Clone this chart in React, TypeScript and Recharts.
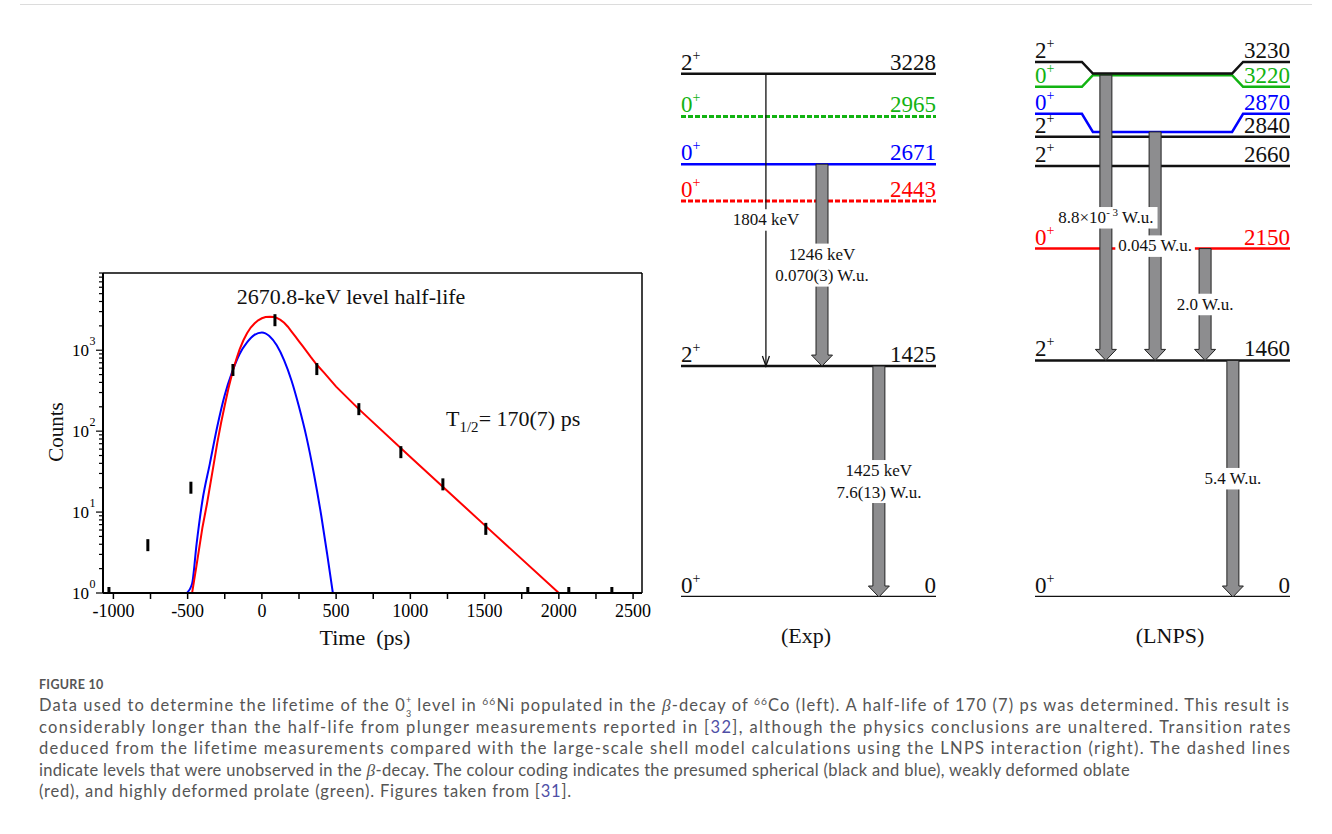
import React, { useLayoutEffect, useRef, useState } from "react";
import {
  ComposedChart,
  Line,
  Scatter,
  XAxis,
  YAxis,
  ReferenceLine,
  ReferenceArea,
  ReferenceDot,
} from "recharts";

const SERIF = '"Liberation Serif", "Times New Roman", serif';

// ---------- left panel: time spectrum of the 2670.8-keV level ----------
const timeTicks = [-1000, -750, -500, -250, 0, 250, 500, 750, 1000, 1250, 1500, 1750, 2000, 2250, 2500];
const countTicks = [
  1, 2, 3, 4, 5, 6, 7, 8, 9,
  10, 20, 30, 40, 50, 60, 70, 80, 90,
  100, 200, 300, 400, 500, 600, 700, 800, 900,
  1000, 2000, 3000, 4000, 5000, 6000, 7000, 8000, 9000,
];

// measured points (ps, counts)
const measTime = [-1030, -768, -478, -195, 88, 370, 653, 936, 1219, 1508, 1791, 2067, 2357];
const measCounts = [1, 3.9, 20, 570, 2350, 585, 187, 55, 22, 6.2, 1, 1, 1];

// fit with the 170 ps decay (red)
const fitTime = [
  -1060, -470, -440, -400, -370, -330, -300, -275, -250, -225, -195, -170, -150, -125, -100, -75, -50, -25,
  0, 25, 55, 80, 100, 125, 150, 175, 200, 225, 250, 275, 300, 330, 370, 420, 500, 653, 1000, 1500, 2000, 2520,
];
const fitCounts = [
  1, 1, 2.2, 6.5, 12.6, 34, 72, 126, 209, 339, 562, 794, 1023, 1318, 1622, 1905, 2138, 2344,
  2483, 2570, 2600, 2570, 2512, 2371, 2188, 1950, 1698, 1479, 1288, 1122, 977, 822, 661, 525, 355, 187, 48, 6.9, 1, 1,
];

// prompt response (blue)
const promptTime = [-505, -470, -440, -400, -350, -300, -250, -200, -150, -100, -50, 0, 50, 100, 150, 200, 250, 300, 350, 400, 440, 478];
const promptCounts = [1, 1.3, 4, 14, 40, 115, 280, 540, 900, 1250, 1550, 1660, 1500, 1150, 750, 420, 200, 85, 30, 9, 3, 1];

// ---------- level schemes (keV) ----------
const expEnergies = [3228, 2965, 2671, 2443, 1425, 0];
const expSpins = ["2", "0", "0", "0", "2", "0"];
const expShapes = ["sph", "prolate", "sph0", "oblate", "sph", "sph"];
const expSeen = [true, false, true, false, true, true];
const expFrom = [3228, 2671, 1425];
const expTo = [1425, 1425, 0];
const expGamma = [1804, 1246, 1425];
const expWu = ["", "0.070(3)", "7.6(13)"];

const lnpsEnergies = [3230, 3220, 2870, 2840, 2660, 2150, 1460, 0];
const lnpsSpins = ["2", "0", "0", "2", "2", "0", "2", "0"];
const lnpsShapes = ["sph", "prolate", "sph0", "sph", "sph", "oblate", "sph", "sph"];
const lnpsFrom = [3220, 2870, 2150, 1460];
const lnpsTo = [1460, 1460, 1460, 0];
const lnpsWu = ["8.8×10^-3", "0.045", "2.0", "5.4"];

// layout of the schemes (x in 0..100 across the level lines)
const expCols = [33.3, 55.3, 77.6];
const expThin = [true, false, false];
const lnpsCols = [27.8, 47.1, 66.7, 77.6];
const lnpsSplay = [72, -72, 112, 0, 0, 0, 0, 0]; // keV shift of the label ends
const shapeColour: Record<string, string> = {
  sph: "#111",
  sph0: "#0000ff",
  oblate: "#ff0000",
  prolate: "#12b312",
};

const charW: Record<string, number> = {
  ".": 0.25, " ": 0.25, "(": 0.333, ")": 0.333, k: 0.5, e: 0.444, V: 0.722,
  W: 0.944, u: 0.5, "×": 0.564, "-": 0.333,
};
const textW = (s: string, fs: number) =>
  [...s].reduce((a, c) => a + (charW[c] ?? 0.5), 0) * fs;

function TimeTick(props: any) {
  const { x, y, payload } = props;
  const v = payload.value;
  return (
    <g>
      <line x1={x} x2={x} y1={y} y2={y + 6} stroke="#000" strokeWidth={1.5} />
      {v % 500 === 0 && (
        <text x={x} y={y + 24} textAnchor="middle" fontFamily={SERIF} fontSize={18} fill="#000">
          {v}
        </text>
      )}
    </g>
  );
}

function CountTick(props: any) {
  const { x, y, payload } = props;
  const e = Math.log10(payload.value);
  const major = Math.abs(e - Math.round(e)) < 1e-6;
  return (
    <g>
      <line x1={x - (major ? 7 : 4)} x2={x} y1={y} y2={y} stroke="#000" strokeWidth={1.2} />
      {major && (
        <>
          <text x={x - 14} y={y + 6} textAnchor="end" fontFamily={SERIF} fontSize={17} fill="#000">10</text>
          <text x={x - 13.5} y={y - 5} fontFamily={SERIF} fontSize={12} fill="#000">{Math.round(e)}</text>
        </>
      )}
    </g>
  );
}

const ErrBar = (p: any) => (
  <rect x={p.cx - 1.5} y={p.cy - 6} width={3} height={12} fill="#000" />
);

function TimeSpectrum() {
  const meas = measTime.map((t, i) => ({ t, v: measCounts[i] }));
  const fit = fitTime.map((t, i) => ({ t, v: fitCounts[i] }));
  const prompt = promptTime.map((t, i) => ({ t, v: promptCounts[i] }));
  return (
    <ComposedChart width={680} height={420} margin={{ top: 23, right: 38, bottom: 27, left: 43 }}>
      <XAxis
        type="number"
        dataKey="t"
        domain={[-1070, 2560]}
        ticks={timeTicks}
        interval={0}
        tickSize={0}
        tickMargin={0}
        tickLine={false}
        tick={<TimeTick />}
        axisLine={{ stroke: "#000", strokeWidth: 2 }}
        height={50}
        allowDataOverflow
      />
      <YAxis
        type="number"
        dataKey="v"
        scale="log"
        domain={[1, 9000]}
        ticks={countTicks}
        interval={0}
        tickSize={0}
        tickMargin={0}
        tickLine={false}
        tick={<CountTick />}
        axisLine={{ stroke: "#000", strokeWidth: 2 }}
        width={60}
        allowDataOverflow
      />
      <ReferenceLine y={9000} stroke="#000" strokeWidth={1.5} ifOverflow="visible" />
      <ReferenceLine x={2560} stroke="#000" strokeWidth={1.5} ifOverflow="visible" />
      <Line data={prompt} dataKey="v" type="monotone" stroke="#0000ff" strokeWidth={2} dot={false} isAnimationActive={false} />
      <Line data={fit} dataKey="v" type="linear" stroke="#ff0000" strokeWidth={2} dot={false} isAnimationActive={false} />
      <Scatter data={meas} dataKey="v" shape={ErrBar} isAnimationActive={false} />
    </ComposedChart>
  );
}

function levelPath(e: number, s: number) {
  if (!s) return [{ x: 0, e }, { x: 100, e }];
  return [
    { x: 0, e: e + s },
    { x: 18.4, e: e + s },
    { x: 22.7, e },
    { x: 77.3, e },
    { x: 81.6, e: e + s },
    { x: 100, e: e + s },
  ];
}

function withSup(l: string) {
  if (!l.includes("^")) return l;
  const [a, rest] = l.split("^");
  const sp = rest.indexOf(" ");
  return (
    <>
      {a}
      <tspan dy={-7} fontSize={11}>{rest.slice(0, sp).replace("-", "- ")}</tspan>
      <tspan dy={7}>{rest.slice(sp)}</tspan>
    </>
  );
}

function GammaLabel({ cx, cy, lines }: any) {
  const fs = 17;
  const lh = 21.5;
  const top = cy - (lines.length * lh) / 2;
  const w = Math.max(...lines.map((l: string) => textW(l.replace("^", ""), fs))) + 4;
  return (
    <g>
      <rect x={cx - w / 2} y={top} width={w} height={lines.length * lh} fill="#fff" />
      {lines.map((l: string, k: number) => (
        <text key={k} x={cx} y={top + lh * k + 16} textAnchor="middle" fontFamily={SERIF} fontSize={fs} fill="#111">
          {withSup(l)}
        </text>
      ))}
    </g>
  );
}

function Arrow({ x, y, width, height, thin }: any) {
  const xc = x + width / 2;
  const y1 = y + height;
  if (thin) {
    return (
      <g stroke="#111" strokeWidth={1.3} fill="none">
        <line x1={xc} x2={xc} y1={y} y2={y1} />
        <polyline points={`${xc - 3.5},${y1 - 10} ${xc},${y1} ${xc + 3.5},${y1 - 10}`} />
      </g>
    );
  }
  const s = 6;
  const h = 10.5;
  const hl = 11;
  const pts = [
    [xc - s, y], [xc + s, y], [xc + s, y1 - hl], [xc + h, y1 - hl],
    [xc, y1], [xc - h, y1 - hl], [xc - s, y1 - hl],
  ].map((p) => p.join(",")).join(" ");
  return <polygon points={pts} fill="#8d8d8f" stroke="#222" strokeWidth={1} />;
}

function LevelScheme(props: any) {
  const { energies, spins, shapes, seen, splay, from, to, labels, cols, thin, width, height, margin } = props;
  const order = energies.map((_: number, i: number) => i).reverse();
  return (
    <ComposedChart width={width} height={height} margin={margin}>
      <XAxis type="number" dataKey="x" domain={[0, 100]} hide height={0} allowDataOverflow />
      <YAxis type="number" dataKey="e" domain={[0, 3400]} hide width={0} allowDataOverflow />
      {order.map((i: number) => (
        <Line
          key={`lv${i}`}
          data={levelPath(energies[i], splay[i])}
          dataKey="e"
          type="linear"
          stroke={shapeColour[shapes[i]]}
          strokeWidth={seen[i] ? 2.5 : 3}
          strokeDasharray={seen[i] ? undefined : "5 2"}
          dot={false}
          isAnimationActive={false}
        />
      ))}
      {order.map((i: number) => (
        <ReferenceDot
          key={`sp${i}`}
          x={0}
          y={energies[i] + splay[i]}
          r={0}
          ifOverflow="visible"
          zIndex={1200}
          shape={(p: any) => (
            <text x={p.cx} y={p.cy - 4} fontFamily={SERIF} fontSize={23} fill={shapeColour[shapes[i]]}>
              {spins[i]}
              <tspan dy={-10} fontSize={14}>+</tspan>
            </text>
          )}
        />
      ))}
      {order.map((i: number) => (
        <ReferenceDot
          key={`en${i}`}
          x={100}
          y={energies[i] + splay[i]}
          r={0}
          ifOverflow="visible"
          zIndex={1200}
          shape={(p: any) => (
            <text x={p.cx} y={p.cy - 4} textAnchor="end" fontFamily={SERIF} fontSize={23} fill={shapeColour[shapes[i]]}>
              {energies[i]}
            </text>
          )}
        />
      ))}
      {from.map((f: number, k: number) => (
        <ReferenceArea
          key={`ar${k}`}
          x1={cols[k] - 4.3}
          x2={cols[k] + 4.3}
          y1={to[k]}
          y2={f}
          ifOverflow="visible"
          zIndex={1300}
          shape={(p: any) => <Arrow {...p} thin={thin[k]} />}
        />
      ))}
      {from.map((f: number, k: number) => (
        <ReferenceDot
          key={`gl${k}`}
          x={cols[k]}
          y={(f + to[k]) / 2}
          r={0}
          ifOverflow="visible"
          zIndex={1400}
          shape={(p: any) => <GammaLabel cx={p.cx} cy={p.cy} lines={labels[k]} />}
        />
      ))}
    </ComposedChart>
  );
}

// caption line stretched by letter spacing so that it ends where the original does
function CapLine({ target, children }: { target: number; children: React.ReactNode }) {
  const ref = useRef<HTMLSpanElement>(null);
  const [ls, setLs] = useState(0);
  useLayoutEffect(() => {
    const el = ref.current;
    if (!el) return;
    const w = el.getBoundingClientRect().width;
    const n = (el.textContent || "").length || 1;
    setLs((target - w) / n);
  }, [target]);
  return (
    <div style={{ whiteSpace: "nowrap", height: 21.5, lineHeight: "21.5px" }}>
      <span ref={ref} style={{ letterSpacing: ls, whiteSpace: "nowrap" }}>{children}</span>
    </div>
  );
}

const sup: React.CSSProperties = { fontSize: "0.62em", position: "relative", top: -6, lineHeight: 0 };
const link: React.CSSProperties = { color: "#4f4fa6" };
const beta = <i style={{ fontFamily: SERIF, fontSize: "1.05em" }}>β</i>;
const stackSpan: React.CSSProperties = { position: "absolute", left: 0, fontSize: 9, lineHeight: "9px" };

export default function App() {
  const expLabels = expGamma.map((g, k) => (expWu[k] ? [`${g} keV`, `${expWu[k]} W.u.`] : [`${g} keV`]));
  const lnpsLabels = lnpsWu.map((w) => [`${w} W.u.`]);
  return (
    <div style={{ position: "absolute", left: 0, top: 0, width: 1332, height: 834, background: "#fff", overflow: "hidden" }}>
      <div style={{ position: "absolute", left: 20, top: 4, width: 1292, height: 1, background: "#dcdcdc" }} />
      <div style={{ position: "absolute", left: 0, top: 250 }}>
        <TimeSpectrum />
      </div>
      <div style={{ position: "absolute", left: 640, top: 20 }}>
        <LevelScheme
          energies={expEnergies} spins={expSpins} shapes={expShapes} seen={expSeen}
          splay={expEnergies.map(() => 0)} from={expFrom} to={expTo} labels={expLabels}
          cols={expCols} thin={expThin} width={340} height={640}
          margin={{ top: 26, right: 44, bottom: 63, left: 41 }}
        />
      </div>
      <div style={{ position: "absolute", left: 995, top: 20 }}>
        <LevelScheme
          energies={lnpsEnergies} spins={lnpsSpins} shapes={lnpsShapes} seen={lnpsEnergies.map(() => true)}
          splay={lnpsSplay} from={lnpsFrom} to={lnpsTo} labels={lnpsLabels}
          cols={lnpsCols} thin={lnpsFrom.map(() => false)} width={337} height={640}
          margin={{ top: 26, right: 42, bottom: 63, left: 40 }}
        />
      </div>
      <svg style={{ position: "absolute", left: 0, top: 0, pointerEvents: "none" }} width={1332} height={834}>
        <g fontFamily={SERIF} fill="#111">
          <text x={351} y={304} textAnchor="middle" fontSize={22}>2670.8-keV level half-life</text>
          <text x={446} y={426} fontSize={22}>
            T<tspan dy={6} fontSize={15}>1/2</tspan><tspan dy={-6}>= 170(7) ps</tspan>
          </text>
          <text x={63} y={432} fontSize={21} textAnchor="middle" transform="rotate(-90 63 432)">Counts</text>
          <text x={365} y={645} fontSize={22} textAnchor="middle" style={{ whiteSpace: "pre" }}>Time  (ps)</text>
          <text x={806} y={643} fontSize={22} textAnchor="middle">(Exp)</text>
          <text x={1170} y={643} fontSize={22} textAnchor="middle">(LNPS)</text>
        </g>
      </svg>
      <div style={{ position: "absolute", left: 39, top: 675, fontFamily: "Lato", color: "#555", fontSize: 16.5 }}>
        <div style={{ fontSize: 12.5, fontWeight: 700, height: 20, lineHeight: "20px", letterSpacing: 0.3 }}>FIGURE 10</div>
        <CapLine target={1253}>
          Data used to determine the lifetime of the 0
          <span style={{ position: "relative", display: "inline-block", width: 6, height: 0 }}>
            <span style={{ ...stackSpan, top: -16 }}>+</span>
            <span style={{ ...stackSpan, top: -2 }}>3</span>
          </span>{" "}
          level in <span style={sup}>66</span>Ni populated in the {beta}-decay of <span style={sup}>66</span>Co (left). A half-life of 170 (7) ps was determined. This result is
        </CapLine>
        <CapLine target={1253}>
          considerably longer than the half-life from plunger measurements reported in [<span style={link}>32</span>], although the physics conclusions are unaltered. Transition rates
        </CapLine>
        <CapLine target={1253}>
          deduced from the lifetime measurements compared with the large-scale shell model calculations using the LNPS interaction (right). The dashed lines
        </CapLine>
        <CapLine target={1091}>
          indicate levels that were unobserved in the {beta}-decay. The colour coding indicates the presumed spherical (black and blue), weakly deformed oblate
        </CapLine>
        <CapLine target={533}>
          (red), and highly deformed prolate (green). Figures taken from [<span style={link}>31</span>].
        </CapLine>
      </div>
    </div>
  );
}
